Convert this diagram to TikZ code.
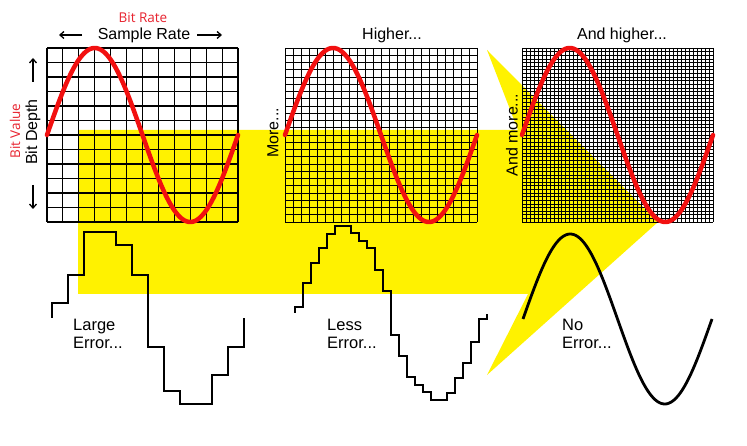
\documentclass[tikz,border=0pt]{standalone}
\usepackage{fontspec}
\setmainfont{Liberation Sans}
\newfontfamily\redfont{Open Sans}
\usetikzlibrary{arrows.meta}
\definecolor{ylw}{RGB}{255,242,0}
\definecolor{wavered}{RGB}{242,16,16}
\definecolor{txtred}{RGB}{232,36,48}
\begin{document}
\begin{tikzpicture}[x=1pt,y=-1pt,
  gridA/.style={line width=1.1pt,black},
  gridB/.style={line width=0.9pt,black},
  gridC/.style={line width=0.6pt,black},
  redwave/.style={line width=4.5pt,wavered,line cap=round},
  blackwave/.style={line width=2.8pt,black,line join=miter},
  lbl/.style={inner sep=0pt,font=\fontsize{16}{17}\selectfont},
  errlbl/.style={inner sep=0pt,anchor=west,align=left,font=\fontsize{16.5}{17.5}\selectfont},
  redlbl/.style={inner sep=0pt,text=txtred,font=\redfont\fontsize{13.5}{15}\selectfont},
  axarrow/.style={line width=1.3pt,-{Straight Barb[length=4pt,width=7pt]}}]
\fill[white] (0,0) rectangle (747,446);
\useasboundingbox (0,0) rectangle (747,446);
% yellow backdrop
\fill[ylw] (78,130) -- (518,130) -- (487,50) -- (658,222) -- (487,375) -- (528,294) -- (78,294) -- cycle;
% grid 1 (12 x 12)
\foreach \i in {0,...,12} {
  \draw[gridA] ({47+\i*191/12},48) -- ({47+\i*191/12},222);
  \draw[gridA] (47,{48+\i*174/12}) -- (238,{48+\i*174/12});
}
% grid 2 (24 x 24)
\foreach \i in {0,...,24} {
  \draw[gridB] ({285+\i*192/24},48) -- ({285+\i*192/24},222);
  \draw[gridB] (285,{48+\i*174/24}) -- (477,{48+\i*174/24});
}
% grid 3 (48 x 48)
\foreach \i in {0,...,48} {
  \draw[gridC] ({522+\i*191/48},48) -- ({522+\i*191/48},222);
  \draw[gridC] (522,{48+\i*174/48}) -- (713,{48+\i*174/48});
}
% red sines
\draw[redwave] plot[domain=0:360,samples=120] ({47+\x/360*191},{135-87*sin(\x)});
\draw[redwave] plot[domain=0:360,samples=120] ({285+\x/360*192},{135-87*sin(\x)});
\draw[redwave] plot[domain=0:360,samples=120] ({522+\x/360*191},{135-87*sin(\x)});
% staircase 1
\draw[blackwave] (52,318) -- (52,303) -- (68,303) -- (68,275) -- (84,275) -- (84,232) -- (116,232) -- (116,245) -- (132,245) -- (132,275) -- (148,275) -- (148,347) -- (164,347) -- (164,391) -- (180,391) -- (180,404) -- (212,404) -- (212,375) -- (228,375) -- (228,347) -- (244,347) -- (244,318);
% staircase 2
\draw[blackwave] (295,313) -- (295,307) -- (303,307) -- (303,283) -- (311,283) -- (311,263) -- (319,263) -- (319,248) -- (327,248) -- (327,234) -- (335,234) -- (335,226) -- (351,226) -- (351,233) -- (359,233) -- (359,241) -- (367,241) -- (367,248) -- (375,248) -- (375,270) -- (383,270) -- (383,291) -- (391,291) -- (391,335) -- (399,335) -- (399,356) -- (407,356) -- (407,377) -- (415,377) -- (415,385) -- (423,385) -- (423,392) -- (431,392) -- (431,400) -- (447,400) -- (447,393) -- (455,393) -- (455,378) -- (463,378) -- (463,363) -- (471,363) -- (471,342) -- (479,342) -- (479,319) -- (487,319) -- (487,314);
% smooth black sine
\draw[black,line width=2.8pt] plot[domain=0:360,samples=120] ({523+\x/360*189},{319-85*sin(\x)});
% labels
\node[redlbl] (bitrate) at (143,18) {Bit Rate};
\node[lbl] (samplerate) at (144,35) {Sample Rate};
\coordinate (la0) at (82,35);
\coordinate (la1) at (59,35);
\coordinate (ra0) at (197,35);
\coordinate (ra1) at (222,35);
\draw[axarrow] (la0) -- (la1);
\draw[axarrow] (ra0) -- (ra1);
\node[lbl,rotate=90] (bitdepth) at (33,132) {Bit Depth};
\node[redlbl,rotate=90] (bitvalue) at (15,131) {Bit Value};
\coordinate (ua0) at (33,82);
\coordinate (ua1) at (33,58);
\coordinate (da0) at (33,185);
\coordinate (da1) at (33,209);
\draw[axarrow] (ua0) -- (ua1);
\draw[axarrow] (da0) -- (da1);
\node[lbl] (higher) at (392,35) {Higher...};
\node[lbl,rotate=90] (more) at (273,133) {More...};
\node[lbl] (andhigher) at (622,35) {And higher...};
\node[lbl,rotate=90] (andmore) at (512,135) {And more...};
\node[errlbl] (large) at (73,334) {Large\\Error...};
\node[errlbl] (less) at (327,334) {Less\\Error...};
\node[errlbl] (noerr) at (562,334) {No\\Error...};
\end{tikzpicture}
\end{document}
